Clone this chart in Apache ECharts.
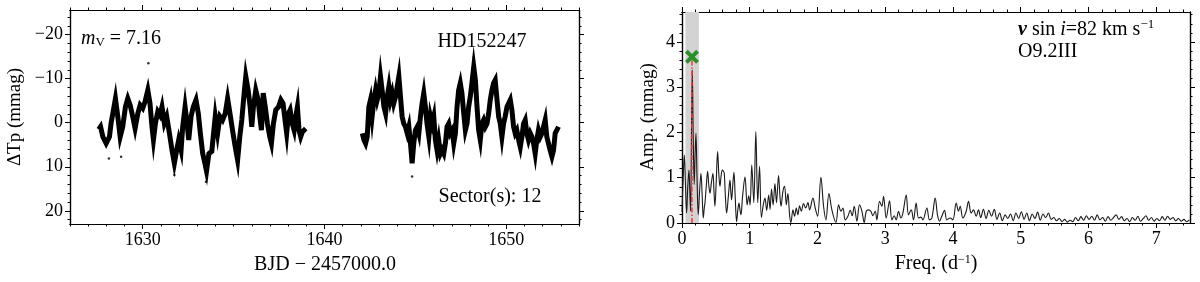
<!DOCTYPE html>
<html><head><meta charset="utf-8">
<script src="https://cdn.jsdelivr.net/npm/echarts@6/dist/echarts.min.js"></script>
<style>html,body{margin:0;padding:0;background:#fff}#c{width:1200px;height:282px}</style>
</head><body><div id="c"></div>
<script>
// ---- Light curve (TESS sector 12), BJD - 2457000 vs delta Tp (mmag) ----
const timesA = [1627.58,1627.68,1627.81,1627.99,1628.17,1628.26,1628.39,1628.50,1628.63,1628.76,1628.90,1629.05,1629.18,1629.31,1629.45,1629.58,1629.73,1629.86,1630.00,1630.13,1630.28,1630.40,1630.51,1630.59,1630.70,1630.83,1630.95,1631.06,1631.19,1631.32,1631.47,1631.61,1631.74,1631.87,1631.98,1632.11,1632.20,1632.33,1632.44,1632.53,1632.66,1632.78,1632.93,1633.06,1633.17,1633.30,1633.42,1633.51,1633.64,1633.80,1633.99,1634.12,1634.25,1634.39,1634.54,1634.67,1634.80,1634.94,1635.09,1635.22,1635.34,1635.45,1635.58,1635.67,1635.80,1635.91,1636.00,1636.09,1636.22,1636.35,1636.44,1636.53,1636.63,1636.74,1636.86,1636.99,1637.08,1637.19,1637.32,1637.47,1637.60,1637.72,1637.83,1637.92,1638.02,1638.11,1638.23,1638.33,1638.42,1638.51,1638.60,1638.69,1638.78,1638.88,1638.97];
const fluxA = [1.5,0.9,3.2,4.7,3.2,0.1,-2.9,-5.5,-1.4,3.2,0.9,-3.6,-5.5,-4.0,-1.4,1.3,-2.1,-4.0,-3.3,-4.8,-7.4,-4.4,0.9,3.9,0.1,-2.5,-1.7,-3.6,0.1,-1.4,2.4,6.2,9.2,6.2,3.9,6.2,0.9,-3.6,0.1,3.9,-1.4,-3.6,-5.2,-2.1,2.4,7.0,9.2,11.0,7.0,6.5,-1.4,2.4,-1.4,-0.6,-2.1,-5.5,-2.1,1.7,5.5,8.5,3.2,-0.6,-6.7,-10.5,-7.4,-3.6,0.9,-3.6,-7.4,-5.2,-1.4,1.7,-6.7,-3.6,0.2,3.2,4.7,0.2,-2.9,-3.6,-5.2,-4.4,-0.6,2.4,-2.1,-2.9,0.2,1.7,-1.4,-3.6,1.7,3.2,2.1,1.7,1.3];
const timesB = [1642.08,1642.17,1642.26,1642.35,1642.44,1642.53,1642.62,1642.72,1642.81,1642.90,1642.99,1643.08,1643.17,1643.27,1643.36,1643.45,1643.54,1643.63,1643.72,1643.81,1643.91,1644.00,1644.09,1644.18,1644.27,1644.36,1644.45,1644.55,1644.64,1644.73,1644.82,1644.91,1645.00,1645.10,1645.19,1645.28,1645.37,1645.46,1645.55,1645.64,1645.74,1645.83,1645.92,1646.01,1646.10,1646.19,1646.28,1646.38,1646.47,1646.56,1646.65,1646.74,1646.83,1646.92,1647.02,1647.11,1647.20,1647.29,1647.38,1647.47,1647.56,1647.66,1647.75,1647.84,1647.93,1648.02,1648.11,1648.21,1648.30,1648.39,1648.48,1648.57,1648.66,1648.75,1648.85,1648.94,1649.03,1649.12,1649.21,1649.30,1649.39,1649.49,1649.58,1649.67,1649.76,1649.85,1649.94,1650.04,1650.13,1650.22,1650.31,1650.40,1650.49,1650.58,1650.68,1650.77,1650.86,1650.95,1651.04,1651.13,1651.22,1651.32,1651.41,1651.50,1651.59,1651.68,1651.77,1651.87,1651.96,1652.05,1652.14,1652.23,1652.32,1652.41,1652.51,1652.60,1652.69,1652.78,1652.87];
const fluxB = [2.4,3.9,4.7,3.2,-3.6,-5.2,-1.4,-5.2,-7.4,-5.2,-6.7,-10.5,-7.4,-3.6,-2.1,-5.9,-8.2,-5.2,-6.7,-4.4,-5.9,-8.2,-10.5,-5.9,-1.4,0.2,0.9,2.4,0.9,4.7,9.2,4.7,1.7,0.9,2.4,-1.4,-4.4,-6.7,-3.6,0.2,3.2,-1.4,0.2,-1.4,3.9,6.2,3.9,7.0,6.2,7.0,4.7,0.9,0.2,2.4,1.7,4.7,2.4,-3.6,-7.4,-9.0,-6.7,-2.1,1.7,0.2,-3.6,-5.9,-9.0,-12.7,-9.7,-3.6,1.7,3.9,0.2,-0.6,0.9,0.2,-2.1,-5.2,-7.4,-9.0,-9.7,-5.2,-1.4,0.2,3.2,0.2,-1.4,-3.6,-4.4,-5.2,-2.9,0.9,2.4,1.7,3.9,5.5,3.2,0.2,-0.6,2.4,3.9,2.4,3.2,4.7,7.0,3.9,1.7,3.2,2.4,0.9,-0.6,3.2,4.7,6.2,7.7,6.2,2.4,1.7,0.9];
const outlierT = [1630.31,1633.48,1631.74,1644.82,1648.21,1628.81,1628.14];
const outlierV = [-13.5,13.4,11.9,12.2,-14.8,7.7,8.1];

// ---- Amplitude spectrum ----
const freqs = [0.000,0.015,0.034,0.050,0.068,0.085,0.103,0.115,0.127,0.140,0.152,0.165,0.180,0.193,0.206,0.222,0.240,0.260,0.280,0.298,0.314,0.330,0.339,0.358,0.378,0.395,0.413,0.435,0.457,0.472,0.486,0.505,0.526,0.543,0.560,0.578,0.595,0.610,0.624,0.640,0.659,0.685,0.708,0.720,0.732,0.750,0.767,0.785,0.806,0.825,0.841,0.855,0.870,0.895,0.930,0.962,0.985,1.005,1.030,1.060,1.090,1.118,1.145,1.172,1.200,1.225,1.250,1.280,1.300,1.322,1.345,1.372,1.395,1.425,1.448,1.462,1.490,1.515,1.540,1.563,1.590,1.608,1.638,1.662,1.687,1.711,1.736,1.761,1.795,1.825,1.859,1.884,1.933,1.967,2.002,2.051,2.090,2.125,2.169,2.213,2.272,2.312,2.346,2.376,2.410,2.449,2.484,2.513,2.543,2.582,2.621,2.656,2.690,2.720,2.754,2.789,2.818,2.853,2.877,2.917,2.951,2.976,3.015,3.064,3.099,3.133,3.162,3.197,3.231,3.261,3.310,3.344,3.384,3.418,3.457,3.492,3.527,3.556,3.615,3.654,3.689,3.738,3.772,3.802,3.836,3.876,3.910,3.959,3.999,4.048,4.082,4.107,4.146,4.196,4.230,4.269,4.304,4.343,4.378,4.41,4.45,4.49,4.53,4.57,4.61,4.65,4.69,4.73,4.77,4.81,4.85,4.89,4.93,4.97,5.01,5.05,5.09,5.13,5.17,5.21,5.25,5.29,5.33,5.37,5.41,5.45,5.49,5.53,5.57,5.61,5.65,5.69,5.73,5.77,5.81,5.85,5.89,5.93,5.97,6.01,6.05,6.09,6.13,6.17,6.21,6.25,6.29,6.33,6.37,6.41,6.45,6.49,6.53,6.57,6.61,6.65,6.69,6.73,6.77,6.81,6.85,6.89,6.93,6.97,7.01,7.05,7.09,7.13,7.17,7.21,7.25,7.29,7.33,7.37,7.41,7.45,7.49];
const amps = [0.25,0.9,1.50,0.9,0.22,0.8,1.17,0.7,0.26,2.0,3.38,2.0,0.85,1.5,1.98,1.0,0.18,0.7,1.10,0.6,0.11,0.35,0.44,0.8,1.14,0.85,0.66,0.9,1.10,0.7,0.37,0.9,1.58,1.1,0.81,1.05,1.17,1.15,1.10,0.6,0.22,0.6,0.95,0.7,0.51,0.85,1.12,0.6,0.03,0.3,0.44,0.3,0.18,0.6,1.02,0.40,0.6,0.40,1.28,0.45,2.02,0.45,1.25,0.12,0.40,0.55,0.28,0.62,0.30,0.75,0.40,0.87,0.45,1.05,0.55,0.37,0.70,0.81,0.40,0.65,0.15,0.01,0.29,0.15,0.33,0.18,0.38,0.26,0.43,0.33,0.45,0.29,0.55,0.33,0.15,1.01,0.37,0.07,0.65,0.29,0.01,0.40,0.26,0.33,0.07,0.15,0.28,0.16,0.37,0.04,0.40,0.26,0.01,0.26,0.29,0.26,0.16,0.26,0.07,0.48,0.37,0.59,0.11,0.49,0.07,0.16,0.07,0.26,0.11,0.22,0.62,0.18,0.29,0.07,0.44,0.11,0.13,0.07,0.33,0.07,0.11,0.55,0.18,0.04,0.15,0.28,0.07,0.11,0.07,0.44,0.26,0.37,0.11,0.26,0.48,0.22,0.29,0.15,0.29,0.12,0.30,0.10,0.28,0.15,0.30,0.08,0.22,0.05,0.18,0.10,0.20,0.05,0.22,0.10,0.25,0.08,0.22,0.05,0.20,0.10,0.24,0.06,0.20,0.12,0.22,0.08,0.12,0.05,0.10,0.03,0.08,0.02,0.06,0.03,0.12,0.05,0.14,0.06,0.16,0.08,0.15,0.06,0.18,0.07,0.12,0.04,0.14,0.06,0.12,0.18,0.08,0.14,0.05,0.10,0.03,0.12,0.06,0.15,0.04,0.10,0.16,0.06,0.12,0.04,0.10,0.05,0.14,0.06,0.15,0.08,0.12,0.05,0.10,0.04,0.08,0.03,0.07];
const peakFreq = 0.147;
const peakMarkerAmp = 3.67;
const peakLineTop = 3.62;
const spanLo = 0.05, spanHi = 0.25;

// ---- Ticks ----
const lcXTicks = [1630, 1640, 1650];
const lcYTicks = [-20, -10, 0, 10, 20];
const pgXTicks = [0, 1, 2, 3, 4, 5, 6, 7];
const pgYTicks = [0, 1, 2, 3, 4];
const lcXRange = [1626, 1654], lcYRange = [-25.6, 23.0];
const pgXRange = [0, 7.5], pgYRange = [0, 4.66];

function steps(a, b, s) { const r = []; for (let i = 0; a + i * s <= b + 1e-9; i++) r.push(+(a + i * s).toFixed(4)); return r; }
const lcXMinor = steps(1626, 1654, 1);
const lcYMinor = steps(-24, 22, 2);
const pgXMinor = steps(0, 7.4, 0.2);
const pgYMinor = steps(0, 4.6, 0.2);

const FONT = 'Liberation Serif';
const fmtMinus = v => (v < 0 ? '\u2212' + Math.abs(v) : String(v));

function ax(grid, pos, rng, ticks, len, labels, inverse) {
  return {
    type: 'value', gridIndex: grid, position: pos, min: rng[0], max: rng[1], inverse: !!inverse,
    axisLine: { show: true, onZero: false, lineStyle: { color: '#000', width: 1.2 } },
    axisTick: { show: true, inside: false, length: len, customValues: ticks, lineStyle: { color: '#000', width: 1 } },
    axisLabel: labels ? { show: true, customValues: labels, margin: 7, color: '#000', fontFamily: FONT, fontSize: 18, formatter: fmtMinus } : { show: false },
    splitLine: { show: false }, minorTick: { show: false }, minorSplitLine: { show: false }
  };
}
const xAxes = [
  ax(0, 'bottom', lcXRange, lcXTicks, 5, lcXTicks), ax(0, 'bottom', lcXRange, lcXMinor, 2.5),
  ax(0, 'top', lcXRange, lcXTicks, 5), ax(0, 'top', lcXRange, lcXMinor, 2.5),
  ax(1, 'bottom', pgXRange, pgXTicks, 5, pgXTicks), ax(1, 'bottom', pgXRange, pgXMinor, 2.5),
  ax(1, 'top', pgXRange, pgXTicks, 5), ax(1, 'top', pgXRange, pgXMinor, 2.5)
];
const yAxes = [
  ax(0, 'left', lcYRange, lcYTicks, 5, lcYTicks, true), ax(0, 'left', lcYRange, lcYMinor, 2.5, null, true),
  ax(0, 'right', lcYRange, lcYTicks, 5, null, true), ax(0, 'right', lcYRange, lcYMinor, 2.5, null, true),
  ax(1, 'left', pgYRange, pgYTicks, 5, pgYTicks), ax(1, 'left', pgYRange, pgYMinor, 2.5),
  ax(1, 'right', pgYRange, pgYTicks, 5), ax(1, 'right', pgYRange, pgYMinor, 2.5)
];

const zip = (a, b) => a.map((v, i) => [v, b[i]]);
const lcColor = '#000';

const chart = echarts.init(document.getElementById('c'), null, { renderer: 'canvas' });
chart.setOption({
  animation: false,
  backgroundColor: '#fff',
  grid: [
    { left: 70, top: 10, width: 509, height: 214 },
    { left: 682, top: 12, width: 508, height: 211 }
  ],
  xAxis: xAxes,
  yAxis: yAxes,
  series: [
    { type: 'line', xAxisIndex: 0, yAxisIndex: 0, data: zip(timesA, fluxA), showSymbol: false, lineStyle: { color: lcColor, width: 5, join: 'miter' }, z: 3 },
    { type: 'line', xAxisIndex: 0, yAxisIndex: 0, data: zip(timesB, fluxB), showSymbol: false, lineStyle: { color: lcColor, width: 5, join: 'miter' }, z: 3 },
    { type: 'scatter', xAxisIndex: 0, yAxisIndex: 0, data: zip(outlierT, outlierV), symbolSize: 2.5, itemStyle: { color: lcColor }, z: 3 },
    { type: 'custom', xAxisIndex: 4, yAxisIndex: 4, z: 1, data: [[spanLo, spanHi]],
      renderItem: (params, api) => {
        const p0 = api.coord([api.value(0), pgYRange[1]]);
        const p1 = api.coord([api.value(1), pgYRange[0]]);
        return { type: 'rect', shape: { x: p0[0], y: p0[1], width: p1[0] - p0[0], height: p1[1] - p0[1] }, style: { fill: '#d3d3d3' } };
      } },
    { type: 'line', xAxisIndex: 4, yAxisIndex: 4, data: zip(freqs, amps), showSymbol: false, smooth: 0.35, lineStyle: { color: '#1a1a1a', width: 1.1 }, z: 3 },
    { type: 'line', xAxisIndex: 4, yAxisIndex: 4, data: [[peakFreq, 0], [peakFreq, peakLineTop]], showSymbol: false,
      lineStyle: { color: '#ff3333', width: 1.5, type: [5, 2, 1.5, 2] }, z: 4 },
    { type: 'scatter', xAxisIndex: 4, yAxisIndex: 4, data: [[peakFreq, peakMarkerAmp]], symbolSize: 14,
      symbol: 'path://M2,0 L5,3 L8,0 L10,2 L7,5 L10,8 L8,10 L5,7 L2,10 L0,8 L3,5 L0,2 Z',
      itemStyle: { color: '#008000' }, z: 5 }
  ],
  graphic: [
    { type: 'text', x: 15, y: 117, rotation: Math.PI / 2, style: { text: '\u0394Tp (mmag)', font: '19px "Liberation Serif"', fill: '#000', align: 'center', verticalAlign: 'middle' } },
    { type: 'text', x: 325, y: 265, style: { text: 'BJD \u2212 2457000.0', font: '20px "Liberation Serif"', fill: '#000', align: 'center', verticalAlign: 'middle' } },
    { type: 'text', x: 648, y: 117, rotation: Math.PI / 2, style: { text: 'Amp. (mmag)', font: '19px "Liberation Serif"', fill: '#000', align: 'center', verticalAlign: 'middle' } },
    { type: 'text', x: 936, y: 264, style: { rich: { s: { fontSize: 12, fontFamily: FONT, padding: [0, 0, 9, 0] } }, text: 'Freq. (d{s|\u22121})', font: '20px "Liberation Serif"', fill: '#000', align: 'center', verticalAlign: 'middle' } },
    { type: 'text', x: 81, y: 39, style: { rich: { i: { fontStyle: 'italic', fontSize: 20, fontFamily: FONT }, b: { fontSize: 13, fontFamily: FONT, padding: [8, 0, 0, 0] }, n: { fontSize: 20, fontFamily: FONT } }, text: '{i|m}{b|V}{n| = 7.16}', fill: '#000', align: 'left', verticalAlign: 'middle' } },
    { type: 'text', x: 482, y: 42, style: { text: 'HD152247', font: '20px "Liberation Serif"', fill: '#000', align: 'center', verticalAlign: 'middle' } },
    { type: 'text', x: 490, y: 197, style: { text: 'Sector(s): 12', font: '20px "Liberation Serif"', fill: '#000', align: 'center', verticalAlign: 'middle' } },
    { type: 'text', x: 1018, y: 30, style: { rich: { v: { fontStyle: 'italic', fontWeight: 'bold', fontSize: 20, fontFamily: FONT }, i: { fontStyle: 'italic', fontSize: 20, fontFamily: FONT }, n: { fontSize: 20, fontFamily: FONT }, s: { fontSize: 13, fontFamily: FONT, padding: [0, 0, 10, 0] } }, text: '{v|v}{n| sin }{i|i}{n|=82 km s}{s|\u22121}', fill: '#000', align: 'left', verticalAlign: 'middle' } },
    { type: 'text', x: 1018, y: 52, style: { text: 'O9.2III', font: '20px "Liberation Serif"', fill: '#000', align: 'left', verticalAlign: 'middle' } }
  ]
});
</script></body></html>
